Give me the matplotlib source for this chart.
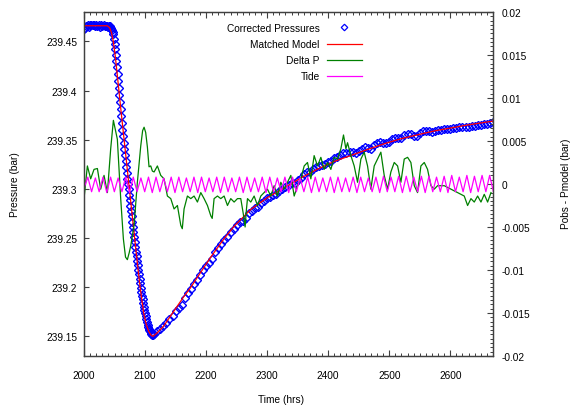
import matplotlib
matplotlib.use("Agg")
import matplotlib.pyplot as plt
from matplotlib.lines import Line2D
from matplotlib.ticker import MultipleLocator, FuncFormatter

plt.rcParams['font.family'] = ['Liberation Sans', 'DejaVu Sans']
plt.rcParams['axes.unicode_minus'] = False

# corrected (observed) pressures, bar
obs_t = [2000, 2002, 2004, 2006, 2008, 2010, 2012, 2014, 2016, 2018,
         2020, 2022, 2024, 2026, 2028, 2030, 2032, 2034, 2036, 2038,
         2039, 2040, 2041, 2042, 2043, 2044, 2045, 2046, 2047, 2048,
         2049, 2050, 2051, 2052, 2053, 2054, 2055, 2056, 2057, 2058,
         2059, 2060, 2061, 2062, 2063, 2064, 2065, 2066, 2067, 2068,
         2069, 2070, 2071, 2072, 2073, 2074, 2075, 2076, 2077, 2078,
         2079, 2080, 2081, 2082, 2083, 2084, 2085, 2086, 2087, 2088,
         2089, 2090, 2091, 2092, 2093, 2094, 2095, 2096, 2097, 2098,
         2099, 2100, 2101, 2102, 2103, 2104, 2105, 2106, 2107, 2108,
         2109, 2110, 2111, 2112, 2113,
         2115, 2120, 2125, 2130, 2135, 2140, 2145, 2150, 2155, 2160,
         2165, 2170, 2175, 2180, 2185, 2190, 2195, 2200, 2205, 2210,
         2215, 2220, 2225, 2230, 2235, 2240, 2245, 2250, 2255, 2260,
         2265, 2270, 2275, 2280, 2285, 2290, 2295, 2300, 2305, 2310,
         2315, 2320, 2325, 2330, 2335, 2340, 2345, 2350, 2355, 2360,
         2365, 2370, 2375, 2380, 2385, 2390, 2395, 2400, 2405, 2410,
         2415, 2420, 2425, 2430, 2435, 2440, 2445, 2450, 2455, 2460,
         2465, 2470, 2475, 2480, 2485, 2490, 2495, 2500, 2505, 2510,
         2515, 2520, 2525, 2530, 2535, 2540, 2545, 2550, 2555, 2560,
         2565, 2570, 2575, 2580, 2585, 2590, 2595, 2600, 2605, 2610,
         2615, 2620, 2625, 2630, 2635, 2640, 2645, 2650, 2655, 2660,
         2665, 2670]
obs_p = [239.4630, 239.4640, 239.4660, 239.4672, 239.4650, 239.4668, 239.4665, 239.4672, 239.4665, 239.4655,
         239.4670, 239.4660, 239.4668, 239.4652, 239.4665, 239.4660, 239.4668, 239.4658, 239.4660, 239.4662,
         239.4650, 239.4650, 239.4655, 239.4657, 239.4648, 239.4637, 239.4630, 239.4615, 239.4595, 239.4574,
         239.4525, 239.4476, 239.4425, 239.4363, 239.4302, 239.4242, 239.4170, 239.4095, 239.4025, 239.3960,
         239.3885, 239.3813, 239.3742, 239.3672, 239.3604, 239.3534, 239.3468, 239.3403, 239.3341, 239.3281,
         239.3221, 239.3162, 239.3104, 239.3049, 239.2994, 239.2938, 239.2883, 239.2828, 239.2774, 239.2721,
         239.2668, 239.2616, 239.2562, 239.2506, 239.2456, 239.2408, 239.2360, 239.2314, 239.2270, 239.2222,
         239.2176, 239.2130, 239.2088, 239.2044, 239.1994, 239.1950, 239.1914, 239.1877, 239.1838, 239.1796,
         239.1768, 239.1737, 239.1708, 239.1672, 239.1646, 239.1620, 239.1593, 239.1570, 239.1560, 239.1550,
         239.1538, 239.1526, 239.1522, 239.1518, 239.1514,
         239.1524, 239.1557, 239.1578, 239.1606, 239.1635, 239.1675, 239.1711, 239.1755, 239.1792, 239.1823,
         239.1891, 239.1943, 239.1982, 239.2032, 239.2073, 239.2128, 239.2172, 239.2212, 239.2248, 239.2286,
         239.2353, 239.2397, 239.2438, 239.2484, 239.2511, 239.2557, 239.2591, 239.2628, 239.2660, 239.2678,
         239.2700, 239.2752, 239.2780, 239.2805, 239.2820, 239.2852, 239.2878, 239.2903, 239.2915, 239.2941,
         239.2952, 239.2979, 239.2996, 239.3015, 239.3040, 239.3060, 239.3062, 239.3089, 239.3116, 239.3147,
         239.3167, 239.3170, 239.3202, 239.3219, 239.3234, 239.3248, 239.3257, 239.3274, 239.3286, 239.3310,
         239.3320, 239.3341, 239.3369, 239.3369, 239.3374, 239.3373, 239.3370, 239.3381, 239.3410, 239.3426,
         239.3421, 239.3408, 239.3445, 239.3462, 239.3480, 239.3472, 239.3463, 239.3479, 239.3504, 239.3517,
         239.3517, 239.3516, 239.3548, 239.3557, 239.3560, 239.3543, 239.3541, 239.3571, 239.3586, 239.3591,
         239.3585, 239.3581, 239.3586, 239.3595, 239.3600, 239.3606, 239.3609, 239.3613, 239.3617, 239.3621,
         239.3625, 239.3628, 239.3627, 239.3629, 239.3639, 239.3641, 239.3651, 239.3651, 239.3663, 239.3661,
         239.3673, 239.3680]

# matched model
model_t = [2000, 2038, 2042, 2045, 2048, 2051, 2054, 2057, 2060, 2065, 2070, 2075, 2080, 2085,
           2090, 2094, 2098, 2102, 2106, 2110, 2113, 2119, 2130, 2141, 2152, 2163, 2174, 2190,
           2207, 2229, 2246, 2273, 2300, 2328, 2355, 2382, 2410, 2437, 2464, 2492, 2519, 2546,
           2574, 2601, 2628, 2670]
model_p = [239.466, 239.466, 239.464, 239.459, 239.450, 239.436, 239.419, 239.401, 239.383,
           239.354, 239.325, 239.296, 239.267, 239.238, 239.210, 239.190, 239.173, 239.162,
           239.155, 239.151, 239.150, 239.153, 239.160, 239.170, 239.180, 239.190, 239.199,
           239.214, 239.230, 239.249, 239.262, 239.279, 239.291, 239.301, 239.311, 239.320,
           239.328, 239.334, 239.340, 239.346, 239.351, 239.355, 239.359, 239.362, 239.365,
           239.369]

# Pobs - Pmodel
dp_t = [2000.0, 2005.5, 2010.9, 2016.4, 2021.9, 2027.3, 2032.8, 2038.3, 2043.7, 2048.1,
        2051.0, 2054.6, 2058.0, 2060.1, 2064.5, 2068.0, 2071.0, 2074.0, 2076.5, 2082.0,
        2087.4, 2092.9, 2096.0, 2098.4, 2101.0, 2103.8, 2106.5, 2109.3, 2112.0, 2114.8,
        2120.2, 2125.7, 2131.1, 2136.6, 2142.1, 2147.5, 2153.0, 2158.5, 2161.0, 2163.9,
        2169.4, 2174.9, 2180.3, 2185.8, 2191.3, 2196.7, 2202.2, 2207.7, 2210.0, 2213.1,
        2218.6, 2224.0, 2229.5, 2235.0, 2240.4, 2245.9, 2251.4, 2256.8, 2261.0, 2263.9,
        2266.0, 2267.8, 2273.2, 2278.7, 2284.2, 2289.6, 2295.1, 2300.5, 2306.0, 2311.5,
        2316.9, 2322.4, 2327.9, 2333.3, 2338.8, 2344.3, 2349.7, 2355.2, 2360.7, 2366.1,
        2371.6, 2377.0, 2382.5, 2388.0, 2393.4, 2398.9, 2404.4, 2409.8, 2415.3, 2420.8,
        2425.1, 2429.0, 2431.7, 2437.2, 2442.6, 2448.1, 2453.6, 2459.0, 2464.5, 2469.9,
        2475.4, 2480.9, 2486.3, 2491.8, 2497.3, 2502.7, 2508.2, 2513.7, 2519.1, 2524.6,
        2530.1, 2535.5, 2541.0, 2546.4, 2551.9, 2557.4, 2562.8, 2568.3, 2573.8, 2579.2,
        2590.2, 2601.1, 2612.0, 2622.9, 2628.4, 2633.9, 2639.3, 2644.8, 2650.3, 2655.7,
        2661.2, 2666.7]
dp_v = [-0.0017, 0.0021, 0.0006, 0.0017, 0.0018, -0.0006, 0.0010, -0.0010, 0.0041, 0.0074,
        0.0064, 0.0052, 0.0010, -0.0017, -0.0064, -0.0085, -0.0088, -0.0080, -0.0072, -0.0048,
        0.0002, 0.0044, 0.0062, 0.0066, 0.0060, 0.0043, 0.0020, 0.0021, 0.0015, 0.0014,
        0.0021, 0.0010, 0.0006, -0.0014, -0.0017, -0.0029, -0.0025, -0.0048, -0.0052, -0.0029,
        -0.0014, -0.0017, -0.0014, -0.0021, -0.0010, -0.0017, -0.0025, -0.0037, -0.0040, -0.0017,
        -0.0014, -0.0017, -0.0014, -0.0025, -0.0017, -0.0021, -0.0017, -0.0017, -0.0035, -0.0050,
        -0.0030, -0.0017, -0.0021, -0.0014, -0.0025, -0.0014, -0.0010, -0.0006, -0.0014, -0.0002,
        -0.0014, 0.0002, -0.0006, 0.0002, 0.0010, -0.0014, -0.0002, 0.0006, 0.0021, 0.0025,
        0.0006, 0.0033, 0.0021, 0.0031, 0.0017, 0.0025, 0.0017, 0.0031, 0.0029, 0.0041,
        0.0057, 0.0041, 0.0048, 0.0033, 0.0021, 0.0002, 0.0029, 0.0037, 0.0021, -0.0006,
        0.0021, 0.0029, 0.0037, 0.0010, -0.0006, 0.0014, 0.0025, 0.0021, 0.0002, 0.0029,
        0.0031, 0.0025, -0.0002, -0.0010, 0.0021, 0.0025, 0.0017, -0.0002, -0.0006, -0.0002,
        -0.0002, -0.0006, -0.0010, -0.0014, -0.0025, -0.0017, -0.0021, -0.0014, -0.0021, -0.0012,
        -0.0021, -0.0010]

# tide (highs and lows)
tide_t = [2000.0, 2006.2, 2012.4, 2018.6, 2024.8, 2031.1, 2037.3, 2043.5, 2049.7, 2055.9,
          2062.1, 2068.3, 2074.5, 2080.7, 2086.9, 2093.2, 2099.4, 2105.6, 2111.8, 2118.0,
          2124.2, 2130.4, 2136.6, 2142.8, 2149.0, 2155.3, 2161.5, 2167.7, 2173.9, 2180.1,
          2186.3, 2192.5, 2198.7, 2204.9, 2211.1, 2217.4, 2223.6, 2229.8, 2236.0, 2242.2,
          2248.4, 2254.6, 2260.8, 2267.0, 2273.2, 2279.5, 2285.7, 2291.9, 2298.1, 2304.3,
          2310.5, 2316.7, 2322.9, 2329.1, 2335.3, 2341.6, 2347.8, 2354.0, 2360.2, 2366.4,
          2372.6, 2378.8, 2385.0, 2391.2, 2397.4, 2403.7, 2409.9, 2416.1, 2422.3, 2428.5,
          2434.7, 2440.9, 2447.1, 2453.3, 2459.5, 2465.8, 2472.0, 2478.2, 2484.4, 2490.6,
          2496.8, 2503.0, 2509.2, 2515.4, 2521.6, 2527.9, 2534.1, 2540.3, 2546.5, 2552.7,
          2558.9, 2565.1, 2571.3, 2577.5, 2583.7, 2590.0, 2596.2, 2602.4, 2608.6, 2614.8,
          2621.0, 2627.2, 2633.4, 2639.6, 2645.8, 2652.1, 2658.3, 2664.5, 2670.7]
tide_v = [-0.0005, 0.0008, -0.0009, 0.0007, -0.0009, 0.0008, -0.0010, 0.0008, -0.0009, 0.0007,
          -0.0009, 0.0008, -0.0010, 0.0008, -0.0009, 0.0007, -0.0009, 0.0008, -0.0010, 0.0008,
          -0.0009, 0.0007, -0.0009, 0.0008, -0.0010, 0.0008, -0.0009, 0.0007, -0.0009, 0.0008,
          -0.0010, 0.0008, -0.0009, 0.0007, -0.0009, 0.0008, -0.0010, 0.0008, -0.0009, 0.0007,
          -0.0009, 0.0008, -0.0010, 0.0008, -0.0009, 0.0007, -0.0009, 0.0008, -0.0010, 0.0008,
          -0.0009, 0.0007, -0.0009, 0.0008, -0.0010, 0.0008, -0.0009, 0.0007, -0.0009, 0.0008,
          -0.0010, 0.0008, -0.0009, 0.0007, -0.0009, 0.0008, -0.0010, 0.0008, -0.0009, 0.0007,
          -0.0009, 0.0008, -0.0010, 0.0008, -0.0009, 0.0007, -0.0009, 0.0008, -0.0010, 0.0009,
          -0.0009, 0.0008, -0.0009, 0.0009, -0.0010, 0.0009, -0.0009, 0.0008, -0.0009, 0.0009,
          -0.0010, 0.0009, -0.0009, 0.0008, -0.0009, 0.0009, -0.0010, 0.0010, -0.0009, 0.0008,
          -0.0009, 0.0010, -0.0010, 0.0009, -0.0009, 0.0010, -0.0009, 0.0010, -0.0009]

fig = plt.figure(figsize=(5.7, 4.06), dpi=100)
ax = fig.add_axes([0.1474, 0.1207, 0.7175, 0.8473])
ax2 = ax.twinx()

ax.plot(obs_t, obs_p, ls='none', marker='D', ms=4.2, mfc='none', mec='#0000ff', mew=1.0)
ax.plot(model_t, model_p, color='#ff0000', lw=0.9)
ax2.plot(dp_t, dp_v, color='#008000', lw=0.9)
ax2.plot(tide_t, tide_v, color='#ff00ff', lw=0.9)

ax.set_xlim(2000, 2670)
ax.set_ylim(239.13, 239.48)
ax2.set_ylim(-0.02, 0.02)

fmt = FuncFormatter(lambda v, p: '%g' % round(v, 6))
ax.xaxis.set_major_locator(MultipleLocator(100))
ax.xaxis.set_minor_locator(MultipleLocator(10))
ax.yaxis.set_major_locator(MultipleLocator(0.05))
ax.yaxis.set_major_formatter(fmt)
ax2.yaxis.set_major_locator(MultipleLocator(0.005))
ax2.yaxis.set_minor_locator(MultipleLocator(0.0005))
ax2.yaxis.set_major_formatter(fmt)

fc = '#404040'
for a in (ax, ax2):
    for s in a.spines.values():
        s.set_color(fc)
        s.set_linewidth(0.9)

ax.tick_params(axis='x', which='both', direction='in', top=True, bottom=True,
               labelsize=7.3, pad=10, color=fc)
ax.tick_params(axis='x', which='major', length=4.5, width=0.8)
ax.tick_params(axis='x', which='minor', length=2.2, width=0.7)
ax.tick_params(axis='y', which='major', direction='in', left=True, right=False,
               length=3.5, width=0.8, labelsize=7.3, pad=5, color=fc)
ax2.tick_params(axis='y', which='both', direction='in', right=True, left=False,
                labelsize=7.3, pad=6, color=fc)
ax2.tick_params(axis='y', which='major', length=4, width=0.8)
ax2.tick_params(axis='y', which='minor', length=2, width=0.7)

fig.text(281 / 570, 1 - 400 / 406, 'Time (hrs)', ha='center', va='center', fontsize=7.3)
fig.text(15 / 570, 1 - 185 / 406, 'Pressure (bar)', rotation=90, ha='center', va='center', fontsize=7.3)
fig.text(566 / 570, 1 - 184 / 406, 'Pobs - Pmodel (bar)', rotation=90, ha='center', va='center', fontsize=7.3)

handles = [Line2D([], [], ls='none', marker='D', ms=3.3, mfc='none', mec='#0000ff', mew=0.9),
           Line2D([], [], color='#ff0000', lw=0.9),
           Line2D([], [], color='#008000', lw=0.9),
           Line2D([], [], color='#ff00ff', lw=0.9)]
labels = ['Corrected Pressures', 'Matched Model', 'Delta P', 'Tide']
ax2.legend(handles, labels, loc='upper right', bbox_to_anchor=(0.68, 0.968),
           markerfirst=False, frameon=False, fontsize=7.3, handlelength=3.5,
           handletextpad=0.7, labelspacing=0.6, borderaxespad=0, borderpad=0, numpoints=1)

fig.savefig('out.png', dpi=100)
